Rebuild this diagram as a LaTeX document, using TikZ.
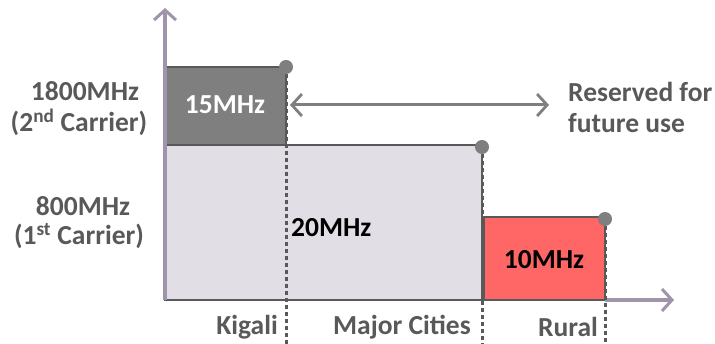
\documentclass[tikz,border=0pt]{standalone}
\usepackage{fontspec}
\setmainfont{Carlito}
\usetikzlibrary{arrows.meta}
\definecolor{axisc}{HTML}{A093AA}
\definecolor{txt}{HTML}{595959}
\definecolor{darkbox}{HTML}{7F7F7F}
\definecolor{darkedge}{HTML}{595959}
\definecolor{lightbox}{HTML}{E1DFE5}
\definecolor{redbox}{HTML}{FF6666}
\definecolor{dotc}{HTML}{7F7F7F}
\tikzset{
  lbl/.style={font=\bfseries\fontsize{27.5}{31}\selectfont, text=txt, inner sep=0pt},
  boxlbl/.style={font=\bfseries\fontsize{27.5}{31}\selectfont, inner sep=0pt},
  axis/.style={draw=axisc, line width=3.2pt, -{Straight Barb[length=10pt,width=22pt,line width=3pt]}},
  divider/.style={draw=darkedge, line width=3pt, dash pattern=on 4pt off 3pt},
  corner/.style={circle, fill=dotc, minimum size=14pt, inner sep=0pt},
  band/.style={draw=darkedge, line width=2.8pt}
}
\begin{document}
\begin{tikzpicture}[x=1pt,y=-1pt]
\useasboundingbox (0,0) rectangle (715,344);
% boxes
\draw[band, fill=lightbox] (165,145) rectangle (482,300);
\draw[band, fill=darkbox] (165,67) rectangle (286,145);
\draw[band, fill=redbox] (484,217) rectangle (605,300);
% axes
\coordinate (o) at (165,300);
\coordinate (ytop) at (165,8);
\coordinate (xend) at (674,300);
\draw[axis] (o) -- (ytop);
\draw[axis] (605,300) -- (xend);
% dividers
\coordinate (d1t) at (286,67);
\coordinate (d1b) at (286,344);
\coordinate (d2t) at (482,147);
\coordinate (d2b) at (482,344);
\coordinate (d3t) at (605,219);
\coordinate (d3b) at (605,344);
\draw[divider] (d1t) -- (d1b);
\draw[divider] (d2t) -- (d2b);
\draw[divider] (d3t) -- (d3b);
\node[corner] (c1) at (d1t) {};
\node[corner] (c2) at (d2t) {};
\node[corner] (c3) at (d3t) {};
% reserved arrow
\coordinate (ra) at (290,105);
\coordinate (rb) at (549,105);
\draw[draw=darkbox, line width=3pt, {Straight Barb[length=10pt,width=22pt,line width=2.8pt]}-{Straight Barb[length=10pt,width=22pt,line width=2.8pt]}] (ra) -- (rb);
\node[lbl, anchor=west, align=left] (res) at (568,107) {Reserved for\\future use};
% box labels
\node[boxlbl, text=white] (l15) at (225,105) {15MHz};
\node[boxlbl, text=black, anchor=west] (l20) at (291,228) {20MHz};
\node[boxlbl, text=black] (l10) at (544,260) {10MHz};
% left labels
\node[lbl] (f1800) at (85,91) {1800MHz};
\node[lbl] (c2nd) at (79,122) {(2\textsuperscript{nd} Carrier)};
\node[lbl] (f800) at (83,206) {800MHz};
\node[lbl] (c1st) at (79,236) {(1\textsuperscript{st} Carrier)};
% bottom labels
\node[lbl, anchor=east] (kig) at (278,327) {Kigali};
\node[lbl, anchor=east] (maj) at (471,327) {Major Cities};
\node[lbl, anchor=east] (rur) at (598,327) {Rural};
\end{tikzpicture}
\end{document}
